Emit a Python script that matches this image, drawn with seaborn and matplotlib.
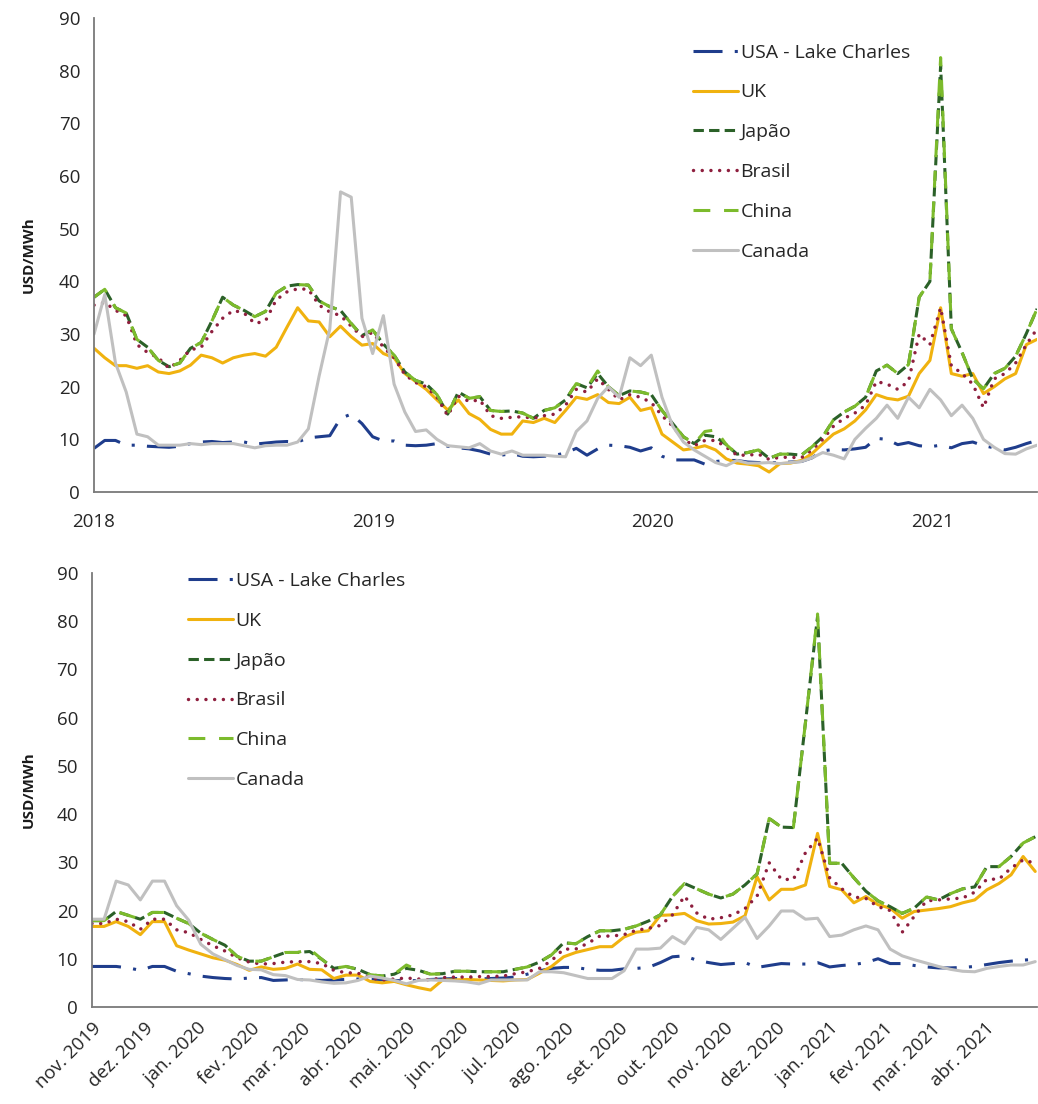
import pandas as pd
import matplotlib.pyplot as plt
import seaborn as sns

sns.set_style("white")
plt.rcParams['font.family'] = ['Open Sans', 'DejaVu Sans']

### series names, in legend order
series_names = ["USA - Lake Charles", "UK", "Japão", "Brasil", "China", "Canada"]

### top panel: one value every two weeks from jan 2018
top_start = "2018-01-01"
top_usa = [8.3, 9.8, 9.8, 8.9, 8.9, 8.7, 8.6, 8.5, 8.7, 9.2,
           9.5, 9.6, 9.4, 9.5, 9.5, 9.1, 9.3, 9.5, 9.6, 9.5,
           10.3, 10.5, 10.7, 14, 14.8, 13, 10.5, 9.7, 9.7, 8.9,
           8.8, 8.9, 9.2, 8.7, 8.4, 8.2, 7.8, 7.2, 7, 7.3,
           6.8, 6.7, 6.8, 7, 7.4, 8.3, 7, 8.2, 8.9, 8.8,
           8.5, 7.8, 8.4, 6.8, 6.1, 6.1, 6.1, 5.3, 5.8, 6,
           6, 5.7, 5.6, 5.6, 5.6, 5.7, 5.8, 6.5, 7.8, 8.1,
           8, 8.2, 8.5, 10.2, 10, 9, 9.4, 8.8, 8.6, 8.9,
           8.4, 9.2, 9.5, 8.8, 8.4, 8, 8.5, 9.2, 9.8]
top_uk = [27.3, 25.5, 24, 24, 23.5, 24, 22.8, 22.5, 23, 24.1,
          26, 25.5, 24.5, 25.5, 26, 26.3, 25.8, 27.5, 31.3, 35,
          32.5, 32.3, 29.5, 31.5, 29.5, 27.9, 28.2, 26.3, 25.5, 22.5,
          21, 19.5, 17.5, 15.6, 17.5, 14.9, 13.8, 11.9, 11, 11,
          13.5, 13.2, 14, 13.2, 15.5, 18, 17.6, 18.5, 17, 16.8,
          18, 15.5, 16, 11, 9.5, 8, 8.3, 8.8, 8, 6.3,
          5.5, 5.3, 5, 3.8, 5.4, 5.5, 6, 7.3, 9.2, 11,
          12, 13.5, 15.6, 18.5, 17.8, 17.5, 18.2, 22.5, 25, 35,
          22.5, 22, 22.5, 18.7, 20, 21.5, 22.5, 28, 29]
top_japan = [37, 38.5, 35, 34, 29, 27.5, 25, 23.8, 24.5, 27.3,
             28.4, 32.5, 37, 35.5, 34.5, 33.3, 34.3, 37.8, 39.1, 39.4,
             39.3, 36.3, 35.2, 34.5, 32, 29.7, 30.8, 28.1, 26, 22.8,
             21.2, 20.5, 18.5, 14.8, 19, 17.8, 18.1, 15.5, 15.3, 15.4,
             15, 14, 15.5, 16, 17.5, 20.6, 19.8, 22.5, 20, 18.3,
             19.2, 19, 18.5, 15.5, 13, 10.5, 9.2, 10.8, 10.5, 9,
             7.2, 7.5, 8, 6.4, 7.2, 7.2, 7, 8.6, 10.5, 13.7,
             15.2, 16.3, 18, 23, 24.1, 22.5, 24.2, 37, 40, 81,
             31, 26.5, 21.5, 19.6, 22.5, 23.5, 25.8, 30.1, 34.8]
top_brasil = [35.5, 36, 34.5, 33.5, 28, 26.5, 25.5, 23.5, 25, 27,
              27.5, 30.5, 33, 34.5, 34, 32, 32.5, 36.5, 38, 38.6,
              38.5, 35.5, 34.2, 33.5, 31.5, 29.5, 30.3, 27.5, 25.5, 22.3,
              20.8, 20, 18, 14.5, 18.2, 17.2, 17.5, 14.5, 14, 14.2,
              14.3, 14, 14.5, 14.8, 16.5, 19.5, 19, 21.5, 19.5, 17.5,
              18.5, 18, 17, 14.5, 12.5, 10, 8.8, 9.8, 9.8, 8.5,
              7, 7, 7.2, 6.2, 6.6, 6.6, 6.5, 8, 10, 12.5,
              14, 15, 16.5, 21, 20.5, 19.5, 21, 30, 28, 35,
              24, 22.5, 20.5, 16, 21.5, 22.5, 24.5, 28, 31]
top_china = [37, 38.5, 35, 34, 29, 27.5, 25, 23.8, 24.5, 27.3,
             28.4, 32.5, 37, 35.5, 34.5, 33.3, 34.3, 37.8, 39.1, 39.4,
             39.3, 36.3, 35.2, 34.5, 32, 29.7, 30.8, 28.1, 26, 22.8,
             21.2, 20.5, 18.5, 14.8, 19, 17.8, 18.1, 15.5, 15.3, 15.4,
             15, 14, 15.5, 16, 17.5, 20.6, 19.8, 23, 20, 18.3,
             19.2, 19, 18.5, 15.5, 13, 10.5, 9.2, 11.5, 11.8, 9,
             7.2, 7.5, 8, 6.4, 7.2, 7.2, 7, 8.6, 10.5, 13.7,
             15.2, 16.3, 18, 23, 24.1, 22.5, 24.2, 37, 40, 82.5,
             31, 26.5, 21.5, 19.6, 22.5, 23.5, 25.8, 30.1, 34.8]
top_canada = [30, 37.5, 24.5, 19, 11, 10.5, 8.9, 8.9, 8.9, 9.2,
              9, 9.2, 9.2, 9.2, 8.8, 8.4, 8.8, 8.9, 8.9, 9.5,
              12, 22, 31, 57, 56, 33, 26.3, 33.5, 20.5, 15.2,
              11.5, 11.8, 10, 8.8, 8.6, 8.4, 9.2, 7.8, 7.2, 7.8,
              7, 7, 7, 6.8, 6.7, 11.5, 13.5, 17.8, 20, 18,
              25.5, 24, 26, 18, 12.5, 9.5, 8, 6.8, 5.6, 5,
              6, 5.5, 5.5, 5.6, 5.4, 5.6, 5.8, 6.5, 7.5, 7,
              6.3, 10, 12.1, 14, 16.5, 14, 18, 16, 19.5, 17.5,
              14.5, 16.5, 14, 10, 8.5, 7.3, 7.2, 8.2, 8.9]
top_years = ["2018", "2019", "2020", "2021"]

### bottom panel: weekly values from nov 2019
bottom_start = "2019-11-01"
bottom_usa = [8.4, 8.4, 8.4, 8.1, 7.6, 8.4, 8.4, 7.4, 6.9, 6.4,
              6.1, 5.9, 5.8, 6.0, 6.1, 5.5, 5.6, 5.7, 5.6, 5.5,
              5.6, 5.7, 5.8, 5.8, 5.6, 5.5, 5.4, 5.5, 5.7, 5.8,
              5.9, 5.9, 5.8, 5.9, 6.0, 6.2, 6.8, 7.5, 8.0, 8.2,
              8.2, 7.8, 7.6, 7.6, 7.9, 8.0, 8.2, 9.2, 10.4, 10.6,
              9.7, 9.2, 8.8, 9.0, 9.2, 8.2, 8.6, 9.0, 8.9, 8.9,
              9.2, 8.3, 8.6, 8.8, 9.2, 10.0, 9.0, 9.0, 8.6, 8.3,
              8.1, 8.1, 8.2, 8.4, 8.8, 9.2, 9.5, 9.7, 9.9]
bottom_uk = [16.7, 16.7, 17.7, 16.7, 15.0, 17.7, 17.7, 12.7, 11.8, 11.0,
             10.2, 9.7, 8.8, 7.6, 8.3, 7.8, 8.0, 8.9, 7.8, 7.7,
             5.9, 6.6, 6.6, 5.3, 5.0, 5.3, 4.6, 4.0, 3.5, 5.6,
             5.6, 5.7, 5.6, 5.5, 5.4, 5.6, 5.7, 7.0, 8.4, 10.4,
             11.3, 11.9, 12.5, 12.5, 14.5, 15.5, 15.8, 19.0, 19.1, 19.4,
             17.9, 17.2, 17.3, 17.6, 18.9, 27.0, 22.2, 24.4, 24.4, 25.3,
             36.0, 25.0, 24.3, 21.6, 22.9, 21.2, 20.5, 18.4, 19.8, 20.1,
             20.4, 20.8, 21.6, 22.2, 24.3, 25.6, 27.4, 31.2, 28.1]
bottom_japan = [17.9, 17.9, 19.8, 19.0, 18.2, 19.6, 19.6, 18.4, 17.3, 15.3,
                14.0, 12.8, 10.5, 9.5, 9.5, 10.4, 11.3, 11.3, 11.5, 9.9,
                8.0, 8.4, 7.8, 6.7, 6.4, 6.8, 8.0, 7.6, 6.8, 6.9,
                7.4, 7.4, 7.3, 7.3, 7.3, 7.8, 8.3, 9.3, 10.8, 13.3,
                13.1, 14.6, 15.8, 15.8, 16.1, 16.8, 17.8, 19.1, 22.9, 25.6,
                24.5, 23.4, 22.6, 23.4, 25.3, 27.6, 39.1, 37.3, 37.2, 59.0,
                81.0, 29.8, 29.8, 26.8, 24.0, 22.0, 20.8, 19.4, 20.5, 22.8,
                22.2, 23.5, 24.5, 24.9, 29.1, 29.1, 31.2, 34.0, 35.3]
bottom_brasil = [17.3, 17.3, 18.2, 17.7, 16.1, 18.2, 18.2, 16.0, 15.4, 14.0,
                 12.7, 11.6, 10.2, 9.3, 8.9, 9.0, 9.3, 9.4, 9.4, 9.0,
                 7.6, 7.1, 7.0, 6.0, 5.6, 5.8, 6.0, 5.8, 5.6, 6.1,
                 6.2, 6.2, 6.3, 6.3, 6.4, 6.9, 7.3, 8.0, 9.6, 12.0,
                 12.0, 13.2, 14.7, 14.7, 15.0, 15.9, 16.3, 16.9, 19.1, 23.0,
                 19.5, 18.2, 18.5, 19.1, 20.4, 23.0, 29.9, 26.5, 26.4, 32.0,
                 35.0, 26.8, 24.5, 22.8, 22.5, 20.8, 20.0, 15.5, 18.8, 22.0,
                 22.2, 22.4, 22.6, 23.8, 26.5, 26.5, 28.8, 30.5, 29.8]
bottom_china = [17.9, 17.9, 19.8, 19.0, 18.2, 19.6, 19.6, 18.4, 17.3, 15.3,
                14.0, 12.8, 10.5, 9.5, 9.5, 10.4, 11.3, 11.3, 12.0, 9.9,
                8.0, 8.4, 7.8, 6.7, 6.4, 6.8, 8.7, 7.6, 6.8, 6.9,
                7.4, 7.4, 7.3, 7.3, 7.3, 7.8, 8.3, 9.3, 10.8, 13.3,
                13.1, 14.6, 15.8, 15.8, 16.1, 16.8, 17.8, 19.1, 22.9, 25.6,
                24.5, 23.4, 22.6, 23.4, 25.3, 27.6, 39.1, 37.3, 37.2, 59.0,
                81.5, 29.8, 29.8, 26.8, 24.0, 22.0, 20.8, 19.4, 20.5, 22.8,
                22.2, 23.5, 24.5, 24.9, 29.1, 29.1, 31.2, 34.0, 35.3]
bottom_canada = [18.2, 18.2, 26.1, 25.3, 22.2, 26.1, 26.1, 21.0, 18.0, 13.0,
                 11.0, 9.8, 8.6, 7.8, 7.7, 6.7, 6.5, 5.7, 5.6, 5.2,
                 4.9, 5.0, 5.5, 6.4, 6.0, 5.5, 4.8, 5.5, 5.6, 5.5,
                 5.4, 5.2, 4.8, 5.6, 5.6, 5.6, 5.6, 7.3, 7.3, 7.1,
                 6.5, 5.9, 5.9, 5.9, 7.5, 12.0, 12.0, 12.2, 14.6, 13.1,
                 16.5, 16.0, 14.0, 16.3, 18.6, 14.2, 16.8, 19.9, 19.9, 18.2,
                 18.4, 14.6, 14.9, 16.0, 16.8, 16.0, 12.0, 10.6, 9.8, 9.1,
                 8.4, 7.8, 7.4, 7.3, 8.0, 8.4, 8.7, 8.7, 9.4]
bottom_months = ["nov. 2019", "dez. 2019", "jan. 2020", "fev. 2020", "mar. 2020",
                 "abr. 2020", "mai. 2020", "jun. 2020", "jul. 2020", "ago. 2020",
                 "set. 2020", "out. 2020", "nov. 2020", "dez. 2020", "jan. 2021",
                 "fev. 2021", "mar. 2021", "abr. 2021"]

colors = {"USA - Lake Charles": "#1f3d8c", "UK": "#f0b20f", "Japão": "#2b6128",
          "Brasil": "#8e1f3e", "China": "#7cbb2c", "Canada": "#c0c0c0"}
dash_styles = {"USA - Lake Charles": (9.5, 4, 1, 4), "UK": "", "Japão": (3.4, 1.7),
               "Brasil": (0.01, 2.5), "China": (5.5, 4.5), "Canada": ""}


def long_frame(dates, columns):
    frames = []
    for name, vals in zip(series_names, columns):
        frames.append(pd.DataFrame({"date": dates, "value": vals, "series": name}))
    return pd.concat(frames, ignore_index=True)


top_dates = pd.date_range(top_start, periods=len(top_uk), freq="14D")
top_df = long_frame(top_dates, [top_usa, top_uk, top_japan, top_brasil, top_china, top_canada])

bottom_dates = pd.date_range(bottom_start, periods=len(bottom_uk), freq="7D")
bottom_df = long_frame(bottom_dates, [bottom_usa, bottom_uk, bottom_japan,
                                      bottom_brasil, bottom_china, bottom_canada])


def draw_panel(ax, df, legend_xy):
    sns.lineplot(data=df, x="date", y="value", hue="series", style="series",
                 hue_order=series_names, style_order=series_names,
                 palette=colors, dashes=dash_styles, linewidth=2.2,
                 legend=False, sort=False, ax=ax)
    for line in ax.lines:
        line.set_dash_capstyle("butt")
    ax.lines[3].set_dash_capstyle("round")
    ax.lines[3].set_linewidth(2.5)

    ax.set_ylim(0, 90)
    ax.set_yticks(range(0, 91, 10))
    ax.set_xlabel("")
    ax.set_ylabel("USD/MWh", fontsize=11, fontweight="bold", color="#1a1a1a")
    sns.despine(ax=ax)
    for side in ["left", "bottom"]:
        ax.spines[side].set_color("#7a7a7a")
        ax.spines[side].set_linewidth(1.3)
    ax.tick_params(axis="both", direction="out", length=6, width=1.1,
                   color="#7a7a7a", labelsize=13.5, labelcolor="#262626")
    ax.tick_params(axis="y", pad=4)

    ax.legend(ax.lines[:6], series_names, frameon=False, loc="upper left",
              bbox_to_anchor=legend_xy, fontsize=14, handlelength=2.3,
              handletextpad=0.15, labelspacing=1.12, borderpad=0, borderaxespad=0)


fig = plt.figure(figsize=(10.38, 11.04), dpi=100)
ax_top = fig.add_axes([0.0906, 0.5543, 0.9085, 0.4293])
ax_bot = fig.add_axes([0.0886, 0.0879, 0.9104, 0.3931])

draw_panel(ax_top, top_df, (0.635, 0.946))
ax_top.set_xlim(pd.Timestamp(top_start), top_dates[-1])
ax_top.set_xticks(pd.to_datetime([y + "-01-01" for y in top_years]))
ax_top.set_xticklabels(top_years)
ax_top.tick_params(axis="x", pad=9)
ax_top.yaxis.set_label_coords(-0.0615, 0.5)

draw_panel(ax_bot, bottom_df, (0.1016, 1.002))
month_ticks = pd.date_range(bottom_start, periods=len(bottom_months) + 1, freq="MS")
ax_bot.set_xlim(month_ticks[0], month_ticks[-1])
ax_bot.set_xticks(month_ticks)
ax_bot.set_xticklabels(bottom_months + [""], rotation=45, ha="right",
                       rotation_mode="anchor")
ax_bot.tick_params(axis="x", pad=3)
ax_bot.yaxis.set_label_coords(-0.059, 0.5)

fig.savefig("out.png", dpi=100)
